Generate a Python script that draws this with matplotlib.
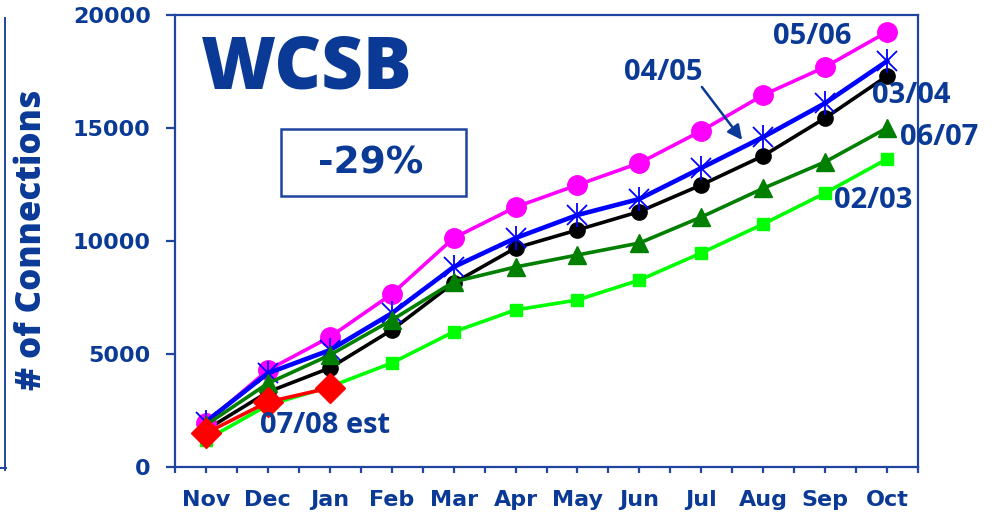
import matplotlib
matplotlib.use("Agg")
import matplotlib.pyplot as plt
from matplotlib.patches import Rectangle
from matplotlib.lines import Line2D

months = ["Nov", "Dec", "Jan", "Feb", "Mar", "Apr", "May", "Jun", "Jul", "Aug", "Sep", "Oct"]
s0203 = [1200, 2740, 3550, 4600, 5980, 6950, 7390, 8270, 9470, 10750, 12120, 13630]
s0304 = [1640, 3320, 4380, 6060, 8140, 9690, 10490, 11300, 12480, 13770, 15440, 17300]
s0405 = [2000, 4150, 5170, 6800, 8850, 10130, 11150, 11860, 13230, 14600, 16100, 17960]
s0506 = [1950, 4290, 5750, 7650, 10130, 11500, 12480, 13450, 14870, 16460, 17700, 19250]
s0607 = [1860, 3700, 4950, 6500, 8190, 8850, 9380, 9910, 11060, 12330, 13500, 15000]
s0708 = [1500, 2880, 3500]
yticks = [0, 5000, 10000, 15000, 20000]

NAVY = "#0A3A96"
SPINE = "#1F45A0"

fig = plt.figure(figsize=(9.99, 5.13), dpi=100)
W, H = 999, 513
ax = fig.add_axes([175 / W, (H - 467) / H, (918 - 175) / W, (467 - 15) / H])

x = list(range(len(months)))
ax.plot(x, s0203, color="#00FF00", lw=2.6, marker="s", ms=8, zorder=3)
ax.plot(x, s0304, color="black", lw=2.6, marker="o", ms=11, zorder=4)
ax.plot(x, s0405, color="#0000FF", lw=3.3, marker="x", ms=15, mew=1.3, zorder=5)
ax.plot(x, s0405, color="#0000FF", lw=0, marker="|", ms=17, mew=1.3, zorder=5)
ax.plot(x, s0506, color="#FF00FF", lw=2.6, marker="o", ms=14, zorder=4)
ax.plot(x, s0607, color="#007F00", lw=2.6, marker="^", ms=13, zorder=6)
ax.plot(x[:len(s0708)], s0708, color="#FF0000", lw=2.6, marker="D", ms=15, zorder=7)

ax.set_xlim(-0.5, len(months) - 0.5)
ax.set_ylim(0, 20000)
ax.set_xticks(x)
ax.set_xticklabels(months)
ax.set_xticks([i - 0.5 for i in range(len(months) + 1)], minor=True)
ax.set_yticks(yticks)
ax.set_yticklabels([str(v) for v in yticks])

for sp in ax.spines.values():
    sp.set_color(SPINE)
    sp.set_linewidth(1.6)

ax.tick_params(axis="x", which="both", direction="out", length=4.5, width=1.6,
               color=SPINE, pad=12)
ax.tick_params(axis="y", which="major", direction="out", length=6.5, width=1.6,
               color=SPINE, pad=11)
for lab in ax.get_xticklabels() + ax.get_yticklabels():
    lab.set_fontfamily("DejaVu Sans")
    lab.set_fontweight("heavy")
    lab.set_fontsize(16)
    lab.set_color(NAVY)

fig.text(32 / W, (H - 240) / H, "# of Connections", rotation=90,
         fontfamily="Open Sans", fontweight="heavy", fontsize=25, color=NAVY,
         ha="center", va="center")

ax.text(1.63, 17610, "WCSB", fontfamily="Open Sans", fontweight="heavy",
        fontsize=52, color=NAVY, ha="center", va="center")

ax.add_patch(Rectangle((1.21, 11991), 4.20 - 1.21, 14956 - 11991, fill=False,
                       edgecolor=SPINE, lw=1.8, zorder=2))
ax.text(2.66, 13450, "-29%", fontfamily="DejaVu Sans", fontweight="bold",
        fontsize=27, color=NAVY, ha="center", va="center")

lab_kw = dict(fontfamily="Open Sans", fontweight="bold", fontsize=21,
              color=NAVY, ha="center", va="center", zorder=10, clip_on=False)
ax.text(9.79, 19050, "05/06", **lab_kw)
ax.text(7.38, 17434, "04/05", **lab_kw)
ax.text(11.39, 16460, "03/04", **lab_kw)
ax.text(11.84, 14600, "06/07", **lab_kw)
ax.text(10.78, 11814, "02/03", **lab_kw)
ax.text(1.92, 1858, "07/08 est", **lab_kw)

ax.annotate("", xy=(8.66, 14469), xytext=(8.01, 16814),
            arrowprops=dict(arrowstyle="-|>", color=NAVY, lw=1.8,
                            mutation_scale=22, shrinkA=0, shrinkB=0), zorder=10)

# partial neighbouring chart frame at the left edge
fig.add_artist(Line2D([4.5 / W, 4.5 / W], [(H - 18) / H, (H - 470) / H],
                      color=SPINE, lw=1.4))
fig.add_artist(Line2D([0, 6 / W], [(H - 468) / H, (H - 468) / H],
                      color=SPINE, lw=1.4))

fig.savefig("out.png", dpi=100)
